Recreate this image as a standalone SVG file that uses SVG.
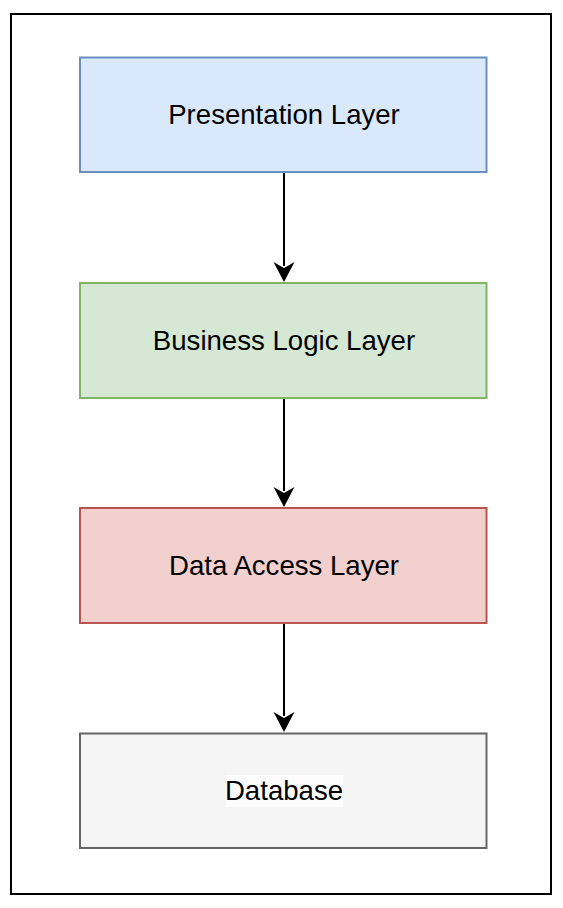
<svg xmlns="http://www.w3.org/2000/svg" width="563" height="908" viewBox="0 0 563 908">
<style>
.box{stroke-width:2}
.lbl{font-family:"Liberation Sans",Arial,Helvetica,sans-serif;font-size:27.6px;fill:#000;text-anchor:middle}
.edge{stroke:#000;stroke-width:2;fill:none}
</style>
<defs>
<path id="head" d="M0 0 L-10.5 -20 L0 -14 L10.5 -20 Z" fill="#000"/>
</defs>
<rect width="563" height="908" fill="#fff"/>
<rect id="frame" x="11" y="14" width="540" height="880" fill="#fff" stroke="#000" stroke-width="2"/>
<g id="presentation">
<rect class="box" x="80" y="57.5" width="406.5" height="114.5" fill="#dae8fc" stroke="#6c8ebf"/>
<text class="lbl" x="284" y="124">Presentation Layer</text>
</g>
<g id="business">
<rect class="box" x="80" y="283" width="406.5" height="115" fill="#d5e8d4" stroke="#82b366"/>
<text class="lbl" x="284" y="350">Business Logic Layer</text>
</g>
<g id="dataaccess">
<rect class="box" x="80" y="508" width="406.5" height="115" fill="#f2d0cd" stroke="#b85450"/>
<text class="lbl" x="284" y="575">Data Access Layer</text>
</g>
<g id="database">
<rect class="box" x="80" y="733.5" width="406.5" height="114.5" fill="#f5f5f5" stroke="#666666"/>
<rect x="226" y="775" width="117" height="32" fill="#fcfcfc"/>
<text class="lbl" x="284" y="800">Database</text>
</g>
<g id="connectors">
<line class="edge" x1="284" y1="173" x2="284" y2="266"/>
<use href="#head" x="284" y="282"/>
<line class="edge" x1="284" y1="399" x2="284" y2="491"/>
<use href="#head" x="284" y="507"/>
<line class="edge" x1="284" y1="624" x2="284" y2="716"/>
<use href="#head" x="284" y="732"/>
</g>
</svg>
